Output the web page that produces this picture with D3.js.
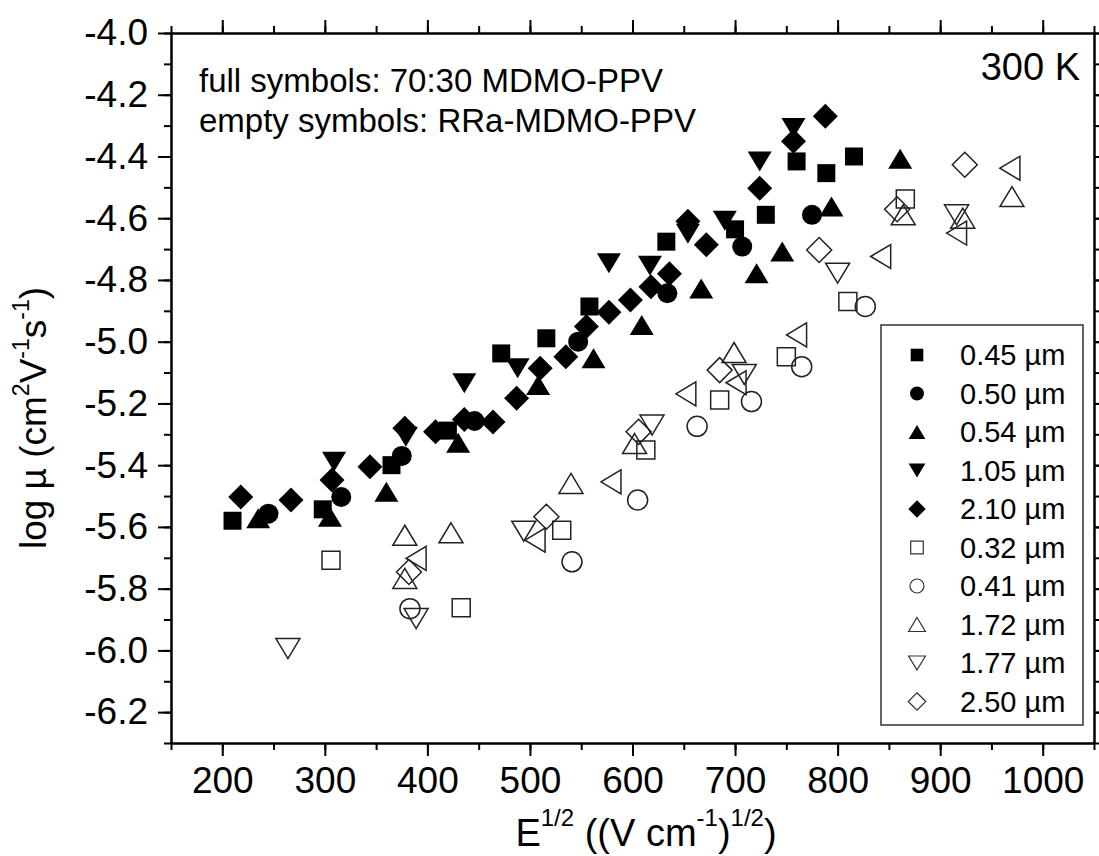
<!DOCTYPE html>
<html>
<head>
<meta charset="utf-8">
<script src="https://cdn.jsdelivr.net/npm/d3@7"></script>
<style>
  body { margin: 0; background: #fff; }
  text { font-family: "Liberation Sans", Arial, sans-serif; fill: #000; }
</style>
</head>
<body>
<div id="chart"></div>
<script>
// Data: x = E^1/2, y = log mu
const labels = ["0.45 µm", "0.50 µm", "0.54 µm", "1.05 µm", "2.10 µm",
                "0.32 µm", "0.41 µm", "1.72 µm", "1.77 µm", "2.50 µm"];

const x045 = [210, 298, 365, 420, 472, 516, 558, 633, 700, 730, 760, 789, 816];
const y045 = [-5.580, -5.543, -5.400, -5.288, -5.038, -4.989, -4.886, -4.676, -4.636, -4.589, -4.416, -4.454, -4.400];

const x050 = [245, 316, 375, 446, 547, 634, 707, 775];
const y050 = [-5.557, -5.503, -5.370, -5.257, -5.000, -4.843, -4.692, -4.589];

const x054 = [235, 305, 360, 430, 508, 562, 609, 667, 721, 746, 794, 861];
const y054 = [-5.572, -5.567, -5.486, -5.327, -5.140, -5.054, -4.946, -4.828, -4.778, -4.708, -4.562, -4.407];

const x105 = [309, 379, 436, 488, 577, 617, 654, 690, 724, 757];
const y105 = [-5.389, -5.308, -5.135, -5.086, -4.746, -4.754, -4.650, -4.608, -4.416, -4.308];

const x210 = [218, 267, 307, 344, 378, 408, 436, 464, 487, 510, 535, 555, 577, 598, 618, 636, 654, 672, 724, 757, 788];
const y210 = [-5.503, -5.513, -5.448, -5.405, -5.280, -5.292, -5.252, -5.260, -5.183, -5.086, -5.049, -4.951, -4.905, -4.865, -4.822, -4.780, -4.610, -4.686, -4.503, -4.351, -4.270];

const x032 = [306, 433, 531, 613, 685, 750, 810, 866];
const y032 = [-5.708, -5.862, -5.611, -5.351, -5.189, -5.049, -4.870, -4.538];

const x041 = [383, 541, 605, 663, 716, 765, 827];
const y041 = [-5.865, -5.713, -5.513, -5.274, -5.194, -5.081, -4.886];

const x172 = [378, 378, 423, 540, 602, 699, 864, 922, 970];
const y172 = [-5.627, -5.767, -5.619, -5.459, -5.330, -5.035, -4.589, -4.600, -4.530];

const x177 = [264, 389, 494, 619, 709, 800, 916];
const y177 = [-5.994, -5.897, -5.614, -5.270, -5.106, -4.778, -4.589];

const x250 = [382, 516, 606, 685, 782, 858, 924];
const y250 = [-5.746, -5.567, -5.292, -5.092, -4.703, -4.571, -4.427];

// open left triangles, not in the legend
const xLeft = [389, 505, 579, 652, 701, 760, 842, 916, 968];
const yLeft = [-5.702, -5.643, -5.454, -5.169, -5.133, -4.978, -4.724, -4.648, -4.438];

const xTicks = [200, 300, 400, 500, 600, 700, 800, 900, 1000];
const yTicks = [-6.2, -6.0, -5.8, -5.6, -5.4, -5.2, -5.0, -4.8, -4.6, -4.4, -4.2, -4.0];

// symbol path, centred on 0,0
function shapePath(shape, k) {
    const s = 18 * k, h = s / 2;
    const r = 10 * k;
    const tw = 12 * k, th = 10 * k;
    const d = 12.5 * k;
    switch (shape) {
        case "square": return `M${-h},${-h}h${s}v${s}h${-s}Z`;
        case "circle": return `M${r},0A${r},${r} 0 1 1 ${-r},0A${r},${r} 0 1 1 ${r},0Z`;
        case "up": return `M0,${-th}L${tw},${th}L${-tw},${th}Z`;
        case "down": return `M0,${th}L${tw},${-th}L${-tw},${-th}Z`;
        case "left": return `M${-th},0L${th},${-tw}L${th},${tw}Z`;
        case "diamond": return `M0,${-d}L${d},0L0,${d}L${-d},0Z`;
    }
}

function createChart(containerId) {
    const width = 1099;
    const height = 856;
    const margin = { top: 33, right: 5, bottom: 113, left: 171 };
    const innerWidth = width - margin.left - margin.right;
    const innerHeight = height - margin.top - margin.bottom;

    const series = [
        { label: labels[0], shape: "square", filled: true, x: x045, y: y045 },
        { label: labels[1], shape: "circle", filled: true, x: x050, y: y050 },
        { label: labels[2], shape: "up", filled: true, x: x054, y: y054 },
        { label: labels[3], shape: "down", filled: true, x: x105, y: y105 },
        { label: labels[4], shape: "diamond", filled: true, x: x210, y: y210 },
        { label: labels[5], shape: "square", filled: false, x: x032, y: y032 },
        { label: labels[6], shape: "circle", filled: false, x: x041, y: y041 },
        { label: labels[7], shape: "up", filled: false, x: x172, y: y172 },
        { label: labels[8], shape: "down", filled: false, x: x177, y: y177 },
        { label: labels[9], shape: "diamond", filled: false, x: x250, y: y250 },
        { label: null, shape: "left", filled: false, x: xLeft, y: yLeft }
    ];

    d3.select("#" + containerId).html("");

    const root = d3.select("#" + containerId)
        .append("svg")
        .attr("width", width)
        .attr("height", height);

    const svg = root.append("g")
        .attr("transform", `translate(${margin.left},${margin.top})`);

    const x = d3.scaleLinear().domain([150, 1050]).range([0, innerWidth]);
    const y = d3.scaleLinear().domain([-6.3, -4.0]).range([innerHeight, 0]);

    const xMinor = d3.range(150, 1051, 50);
    const yMinor = d3.range(-63, -39).map(v => v / 10);

    function styleAxis(g) {
        g.selectAll("path").attr("stroke", "#000").attr("stroke-width", 2);
        g.selectAll("line").attr("stroke", "#000").attr("stroke-width", 2);
        g.selectAll("text").style("font-size", "37px").attr("fill", "#000");
        g.attr("font-family", null);
    }

    // minor ticks on all four sides
    svg.append("g").attr("transform", `translate(0,${innerHeight})`)
        .call(d3.axisBottom(x).tickValues(xMinor).tickSize(7).tickSizeOuter(0).tickFormat(""))
        .call(styleAxis);
    svg.append("g")
        .call(d3.axisTop(x).tickValues(xMinor).tickSize(7).tickSizeOuter(0).tickFormat(""))
        .call(styleAxis);
    svg.append("g")
        .call(d3.axisLeft(y).tickValues(yMinor).tickSize(7).tickSizeOuter(0).tickFormat(""))
        .call(styleAxis);
    svg.append("g").attr("transform", `translate(${innerWidth},0)`)
        .call(d3.axisRight(y).tickValues(yMinor).tickSize(7).tickSizeOuter(0).tickFormat(""))
        .call(styleAxis);

    // major ticks
    svg.append("g").attr("transform", `translate(0,${innerHeight})`)
        .call(d3.axisBottom(x).tickValues(xTicks).tickSize(13).tickSizeOuter(0).tickPadding(11).tickFormat(d3.format("d")))
        .call(styleAxis);
    svg.append("g")
        .call(d3.axisTop(x).tickValues(xTicks).tickSize(13).tickSizeOuter(0).tickFormat(""))
        .call(styleAxis);
    svg.append("g")
        .call(d3.axisLeft(y).tickValues(yTicks).tickSize(13).tickSizeOuter(0).tickPadding(10).tickFormat(d3.format(".1f")))
        .call(styleAxis);
    svg.append("g").attr("transform", `translate(${innerWidth},0)`)
        .call(d3.axisRight(y).tickValues(yTicks).tickSize(13).tickSizeOuter(0).tickFormat(""))
        .call(styleAxis);

    // use a real hyphen-minus like the original
    svg.selectAll(".tick text").text(function() { return d3.select(this).text().replace("−", "-"); });

    // points
    series.forEach(s => {
        svg.append("g")
            .selectAll("path")
            .data(s.x.map((v, i) => [v, s.y[i]]))
            .enter()
            .append("path")
            .attr("transform", d => `translate(${x(d[0])},${y(d[1])})`)
            .attr("d", shapePath(s.shape, 1))
            .attr("fill", s.filled ? "#000" : "none")
            .attr("stroke", s.filled ? "none" : "#222")
            .attr("stroke-width", 1.5);
    });

    // annotations
    svg.append("text")
        .attr("x", 28).attr("y", 59)
        .style("font-size", "33px")
        .text("full symbols: 70:30 MDMO-PPV");
    svg.append("text")
        .attr("x", 28).attr("y", 99)
        .style("font-size", "33px")
        .text("empty symbols: RRa-MDMO-PPV");
    svg.append("text")
        .attr("x", innerWidth - 14).attr("y", 47)
        .attr("text-anchor", "end")
        .style("font-size", "38px")
        .text("300 K");

    // legend
    const legend = svg.append("g").attr("transform", `translate(${881 - margin.left},${325 - margin.top})`);
    legend.append("rect")
        .attr("width", 202).attr("height", 400)
        .attr("fill", "#fff")
        .attr("stroke", "#333")
        .attr("stroke-width", 1.5);
    const entries = series.filter(s => s.label);
    const rows = legend.selectAll(".row")
        .data(entries)
        .enter()
        .append("g")
        .attr("transform", (d, i) => `translate(0,${30 + i * 38.5})`);
    rows.append("path")
        .attr("transform", "translate(36,0)")
        .attr("d", d => shapePath(d.shape, 0.7))
        .attr("fill", d => d.filled ? "#000" : "none")
        .attr("stroke", d => d.filled ? "none" : "#333")
        .attr("stroke-width", 1.2);
    rows.append("text")
        .attr("x", 79)
        .attr("dy", "0.36em")
        .style("font-size", "29px")
        .text(d => d.label);

    // axis titles
    const xt = root.append("text")
        .attr("x", 646).attr("y", 846)
        .attr("text-anchor", "middle")
        .style("font-size", "38px");
    xt.append("tspan").text("E");
    xt.append("tspan").attr("dy", -20).style("font-size", "24px").text("1/2");
    xt.append("tspan").attr("dy", 20).text(" ((V cm");
    xt.append("tspan").attr("dy", -20).style("font-size", "24px").text("-1");
    xt.append("tspan").attr("dy", 20).text(")");
    xt.append("tspan").attr("dy", -20).style("font-size", "24px").text("1/2");
    xt.append("tspan").attr("dy", 20).text(")");

    const yt = root.append("text")
        .attr("transform", "translate(46,418) rotate(-90)")
        .attr("text-anchor", "middle")
        .style("font-size", "37px");
    yt.append("tspan").text("log µ (cm");
    yt.append("tspan").attr("dy", -17).style("font-size", "23px").text("2");
    yt.append("tspan").attr("dy", 17).text("V");
    yt.append("tspan").attr("dy", -17).style("font-size", "23px").text("-1");
    yt.append("tspan").attr("dy", 17).text("s");
    yt.append("tspan").attr("dy", -17).style("font-size", "23px").text("-1");
    yt.append("tspan").attr("dy", 17).text(")");
}

createChart("chart");
</script>
</body>
</html>
